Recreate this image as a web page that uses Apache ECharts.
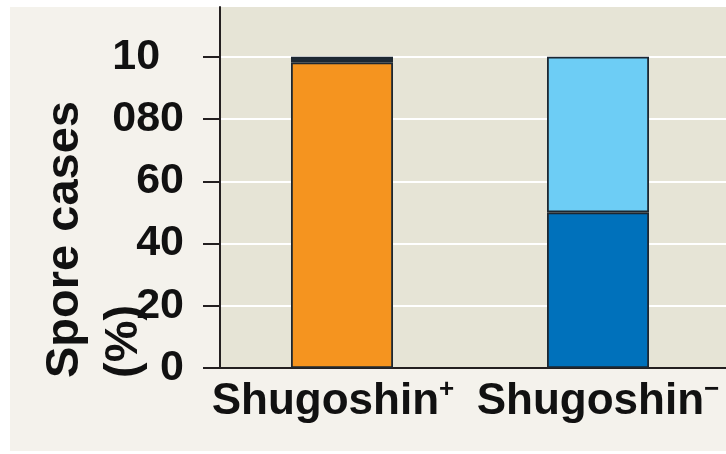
<!DOCTYPE html>
<html>
<head>
<meta charset="utf-8">
<script src="https://cdn.jsdelivr.net/npm/echarts@6/dist/echarts.min.js"></script>
<style>
  html, body { margin: 0; padding: 0; background: #fff; }
  #chart { width: 726px; height: 454px; }
</style>
</head>
<body>
<div id="chart"></div>
<script>
// spore case outcomes (% of cases) per strain
const categories = ['Shugoshin+', 'Shugoshin\u2212'];
const orangeShare = [98.2, null];
const darkTopShare = [1.8, null];
const darkBlueShare = [null, 50];
const lightBlueShare = [null, 50];
const yTicks = [0, 20, 40, 60, 80, 100];
const yLowerLabels = [0, 20, 40, 60, 80];
const yTopLabel = [100];

const FONT = '"Liberation Sans", Arial, sans-serif';
const border = '#1d2731';
const Y_MAX = 116;

const barSeries = (name, data, color) => ({
  name,
  type: 'bar',
  stack: 'cases',
  barWidth: 102,
  data,
  itemStyle: { color, borderColor: border, borderWidth: 1.8 },
  animation: false,
});

const labelStyle = {
  margin: 36,
  fontFamily: FONT,
  fontWeight: 'bold',
  fontSize: 43,
  color: '#111',
  lineHeight: 62,
};

const chart = echarts.init(document.getElementById('chart'));

chart.setOption({
  backgroundColor: '#ffffff',
  animation: false,
  graphic: [
    { type: 'rect', z: -10, shape: { x: 10, y: 7, width: 716, height: 444 }, style: { fill: '#f4f2ec' } },
    { type: 'rect', z: -9, shape: { x: 220, y: 7, width: 506, height: 361 }, style: { fill: '#e6e4d6' } },
    {
      type: 'text',
      x: 36,
      y: 378,
      rotation: Math.PI / 2,
      style: {
        text: 'Spore cases\n(%)',
        font: `bold 47px ${FONT}`,
        fill: '#111',
        textAlign: 'left',
        textVerticalAlign: 'top',
        align: 'left',
        verticalAlign: 'top',
        lineHeight: 59,
      },
    },
  ],
  grid: { left: 214, right: 0, top: 7, bottom: 86, outerBoundsMode: 'none', containLabel: false },
  xAxis: {
    type: 'category',
    data: categories,
    axisLine: { lineStyle: { color: '#231f20', width: 2 } },
    axisTick: { show: false },
    axisLabel: {
      interval: 0,
      margin: 9,
      // first label sits a little left of its bar in the original
      formatter: (v, i) => `{n|${v.slice(0, -1)}}{${i === 0 ? 'p' : 's'}|${v.slice(-1)}}`,
      rich: {
        n: { fontFamily: FONT, fontWeight: 'bold', fontSize: 44, color: '#111', lineHeight: 50 },
        s: { fontFamily: FONT, fontWeight: 'bold', fontSize: 26, color: '#111', lineHeight: 26, verticalAlign: 'top' },
        p: {
          fontFamily: FONT, fontWeight: 'bold', fontSize: 26, color: '#111', lineHeight: 26,
          verticalAlign: 'top', padding: [0, 18, 0, 0],
        },
      },
    },
  },
  yAxis: [
    {
      type: 'value',
      min: 0,
      max: Y_MAX,
      offset: -6,
      axisLine: { show: true, lineStyle: { color: '#231f20', width: 2 } },
      axisTick: { show: true, length: 17, customValues: yTicks, lineStyle: { color: '#231f20', width: 2 } },
      splitLine: { lineStyle: { color: '#ffffff', width: 2 } },
      axisLabel: { ...labelStyle, customValues: yLowerLabels, showMaxLabel: true, showMinLabel: true },
    },
    {
      // the "100" label wraps onto two lines in the original figure
      type: 'value',
      position: 'left',
      min: 0,
      max: Y_MAX,
      offset: -6,
      axisLine: { show: false },
      axisTick: { show: false },
      splitLine: { show: false },
      axisLabel: {
        ...labelStyle,
        customValues: yTopLabel,
        showMaxLabel: true,
        formatter: () => '\u00a0\n10\u2007\n0\u2007\u2007',
      },
    },
  ],
  series: [
    barSeries('Orange', orangeShare, '#f5941f'),
    barSeries('Dark top', darkTopShare, '#1f2a36'),
    barSeries('Dark blue', darkBlueShare, '#0071bb'),
    barSeries('Light blue', lightBlueShare, '#6dcdf5'),
  ],
});
</script>
</body>
</html>
